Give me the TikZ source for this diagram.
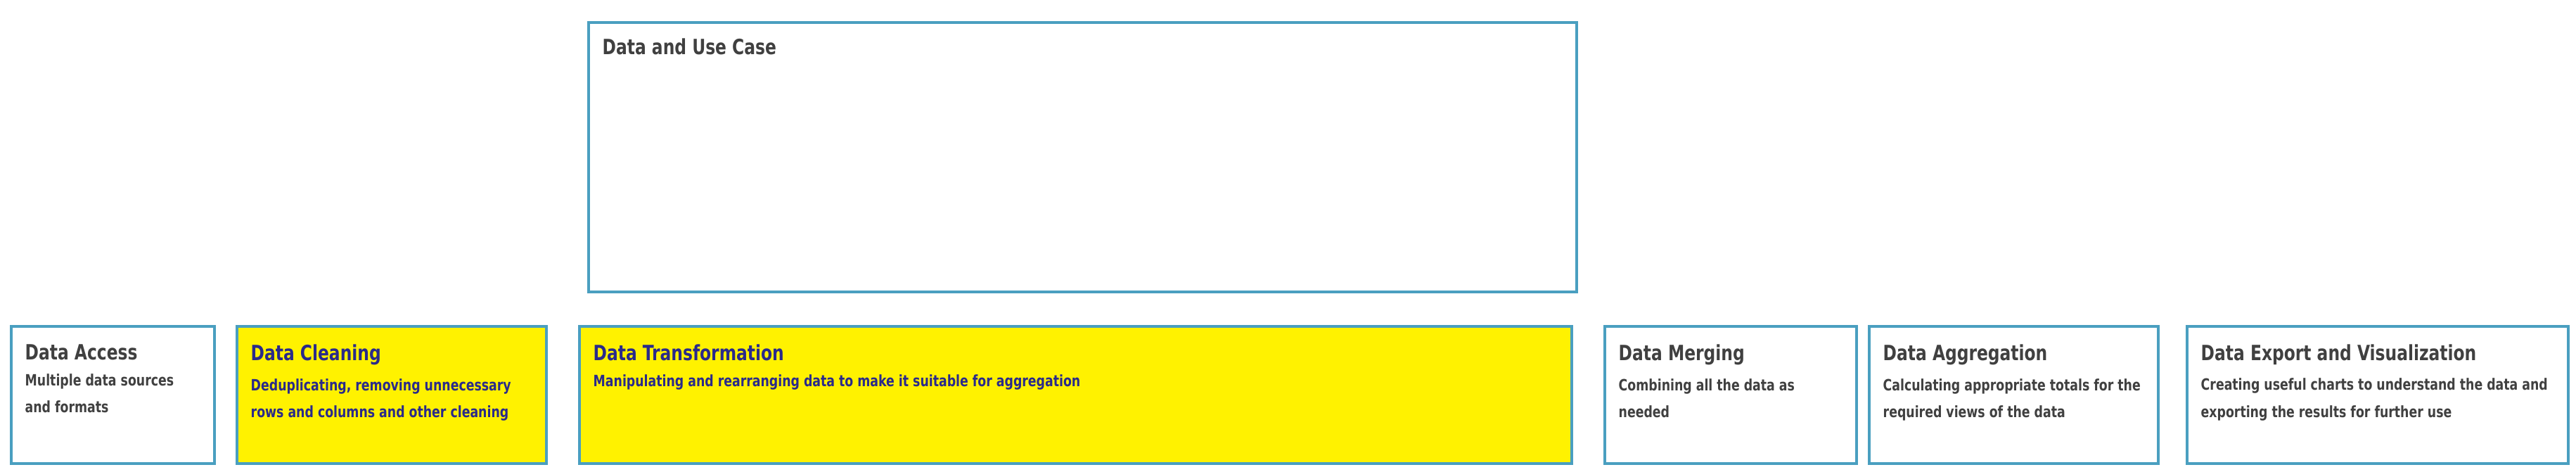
\documentclass[tikz,border=0pt]{standalone}
\usepackage{fontspec}
\setmainfont[FakeStretch=0.87]{DejaVu Sans Condensed}
\usetikzlibrary{positioning}
\definecolor{edgeblue}{HTML}{4A9FC0}
\definecolor{stepyellow}{HTML}{FFF200}
\definecolor{txtgray}{HTML}{404040}
\definecolor{txtblue}{HTML}{2A2A8A}
\tikzset{
  stagebox/.style={draw=edgeblue, line width=1.2pt, fill=white, anchor=north west, inner sep=0pt},
  hotbox/.style={stagebox, fill=stepyellow},
  stagetitle/.style={anchor=north west, font=\bfseries\fontsize{8.5}{10}\selectfont, text=txtgray, inner sep=0pt},
  stagetext/.style={anchor=north west, font=\bfseries\fontsize{6.3}{11}\selectfont, text=txtgray, inner sep=0pt, align=left},
}
\begin{document}
\begin{tikzpicture}[x=1cm, y=-1cm]
            \useasboundingbox (0,0) rectangle (36.63,6.71);
            \node[stagebox, minimum width=14.05cm, minimum height=3.83cm] (usecase) at (8.35,0.30) {};
            \node[stagebox, minimum width=2.89cm, minimum height=1.95cm] (access) at (0.14,4.62) {};
            \node[hotbox, minimum width=4.40cm, minimum height=1.95cm] (cleaning) at (3.35,4.62) {};
            \node[hotbox, minimum width=14.11cm, minimum height=1.95cm] (transform) at (8.22,4.62) {};
            \node[stagebox, minimum width=3.58cm, minimum height=1.95cm] (merging) at (22.80,4.62) {};
            \node[stagebox, minimum width=4.11cm, minimum height=1.95cm] (aggregation) at (26.56,4.62) {};
            \node[stagebox, minimum width=5.42cm, minimum height=1.95cm] (export) at (31.08,4.62) {};

            \node[stagetitle] (usecaset) at ([xshift=0.21cm, yshift=-0.24cm]usecase.north west) {Data and Use Case};
            \node[stagetitle] (accesst) at ([xshift=0.21cm, yshift=-0.27cm]access.north west) {Data Access};
            \node[stagetitle, text=txtblue] (cleaningt) at ([xshift=0.21cm, yshift=-0.27cm]cleaning.north west) {Data Cleaning};
            \node[stagetitle, text=txtblue] (transformt) at ([xshift=0.21cm, yshift=-0.27cm]transform.north west) {Data Transformation};
            \node[stagetitle] (mergingt) at ([xshift=0.21cm, yshift=-0.27cm]merging.north west) {Data Merging};
            \node[stagetitle] (aggregationt) at ([xshift=0.21cm, yshift=-0.27cm]aggregation.north west) {Data Aggregation};
            \node[stagetitle] (exportt) at ([xshift=0.21cm, yshift=-0.27cm]export.north west) {Data Export and Visualization};

            \node[stagetext, below=0.18cm of accesst.south west, anchor=north west] {Multiple data sources\\and formats};
            \node[stagetext, text=txtblue, below=0.18cm of cleaningt.south west, anchor=north west] {Deduplicating, removing unnecessary\\rows and columns and other cleaning};
            \node[stagetext, text=txtblue, below=0.18cm of transformt.south west, anchor=north west] {Manipulating and rearranging data to make it suitable for aggregation};
            \node[stagetext, below=0.18cm of mergingt.south west, anchor=north west] {Combining all the data as\\needed};
            \node[stagetext, below=0.18cm of aggregationt.south west, anchor=north west] {Calculating appropriate totals for the\\required views of the data};
            \node[stagetext, below=0.18cm of exportt.south west, anchor=north west] {Creating useful charts to understand the data and\\exporting the results for further use};
        \end{tikzpicture}
\end{document}
